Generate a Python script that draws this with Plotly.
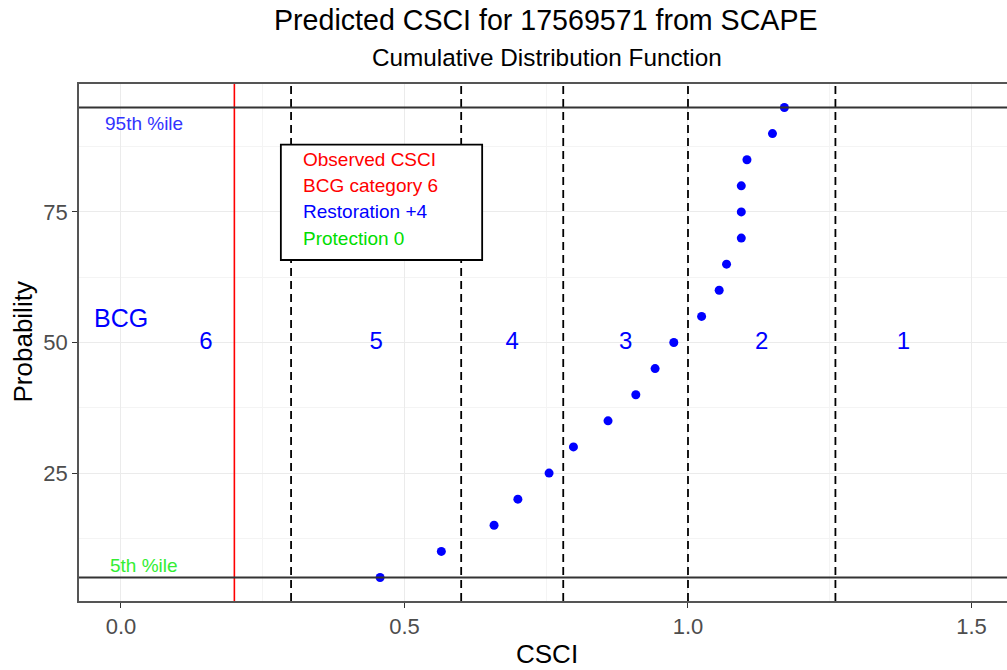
import plotly.graph_objects as go

# ---- data ----
probability = [5, 10, 15, 20, 25, 30, 35, 40, 45, 50, 55, 60, 65, 70, 75, 80, 85, 90, 95]
csci_pred = [0.457, 0.565, 0.658, 0.700, 0.755, 0.798, 0.859, 0.908, 0.942, 0.975,
             1.024, 1.055, 1.068, 1.094, 1.094, 1.094, 1.104, 1.149, 1.170]
bcg_breaks = [0.30, 0.60, 0.78, 1.00, 1.26]
bcg_labels = ["6", "5", "4", "3", "2", "1"]
bcg_label_x = [0.15, 0.45, 0.69, 0.89, 1.13, 1.38]
observed_csci = 0.20
pct_lines = [95, 5]
pct_labels = ["95th %ile", "5th %ile"]
pct_colors = ["#3333FF", "#33EE33"]
legend_lines = ["Observed CSCI", "BCG category 6", "Restoration +4", "Protection 0"]
legend_colors = ["#FF0000", "#FF0000", "#0000FF", "#00DD00"]
x_ticks = [0.0, 0.5, 1.0, 1.5]
x_tick_text = ["0.0", "0.5", "1.0", "1.5"]
y_ticks = [25, 50, 75]

FONT = "Liberation Sans, Arial, sans-serif"
W, H = 1007, 670
L, R, T, B = 79, 0, 84, 69

def px_x(px):
    return (px - L) / (W - L - R)

def px_y(py):
    return (H - B - py) / (H - B - T)

fig = go.Figure()

fig.add_trace(go.Scatter(
    x=csci_pred, y=probability, mode="markers",
    marker=dict(color="#0000FF", size=9, line=dict(width=0)),
    showlegend=False, hoverinfo="x+y"))

# BCG category numbers
fig.add_trace(go.Scatter(
    x=bcg_label_x, y=[50] * len(bcg_labels), mode="text", text=bcg_labels,
    textfont=dict(family=FONT, size=24, color="#0000FF"),
    textposition="middle center", showlegend=False, hoverinfo="skip"))

# threshold dashed lines
for b in bcg_breaks:
    fig.add_vline(x=b, line=dict(color="black", width=1.8, dash="8px,5px"), layer="above")
# observed CSCI
fig.add_vline(x=observed_csci, line=dict(color="#FF0000", width=1.6), layer="above")
# percentile lines
for p in pct_lines:
    fig.add_hline(y=p, line=dict(color="#333333", width=2), layer="above")

# legend box
fig.add_shape(type="rect", xref="x", yref="y", x0=0.282, x1=0.637, y0=65.8, y1=87.9,
              line=dict(color="black", width=1.8), fillcolor="white", layer="above")
for i, (t, c) in enumerate(zip(legend_lines, legend_colors)):
    fig.add_annotation(x=0.317, y=85 - 5 * i, xref="x", yref="y", text=t,
                       showarrow=False, xanchor="left", yanchor="middle",
                       font=dict(family=FONT, size=19, color=c))

# percentile labels
for p, t, c in zip([92, 7.3], pct_labels, pct_colors):
    fig.add_annotation(x=0.04, y=p, xref="x", yref="y", text=t, showarrow=False,
                       xanchor="center", yanchor="middle",
                       font=dict(family=FONT, size=19, color=c))

# BCG label
fig.add_annotation(x=0.0, y=54.6, xref="x", yref="y", text="BCG", showarrow=False,
                   xanchor="center", yanchor="middle",
                   font=dict(family=FONT, size=25, color="#0000FF"))

# titles
fig.add_annotation(x=px_x(546), y=px_y(20), xref="paper", yref="paper",
                   text="Predicted CSCI for 17569571 from SCAPE", showarrow=False,
                   xanchor="center", yanchor="middle",
                   font=dict(family=FONT, size=28.6, color="black"))
fig.add_annotation(x=px_x(547), y=px_y(58), xref="paper", yref="paper",
                   text="Cumulative Distribution Function", showarrow=False,
                   xanchor="center", yanchor="middle",
                   font=dict(family=FONT, size=24.3, color="black"))
fig.add_annotation(x=px_x(547), y=px_y(654), xref="paper", yref="paper",
                   text="CSCI", showarrow=False, xanchor="center", yanchor="middle",
                   font=dict(family=FONT, size=26, color="black"))
fig.add_annotation(x=px_x(22), y=50, xref="paper", yref="y",
                   text="Probability", showarrow=False, textangle=-90,
                   xanchor="center", yanchor="middle",
                   font=dict(family=FONT, size=26, color="black"))

fig.update_layout(
    width=W, height=H, margin=dict(l=L, r=R, t=T, b=B, pad=0),
    paper_bgcolor="white", plot_bgcolor="white",
    font=dict(family=FONT),
    xaxis=dict(range=[-0.074, 1.5626], tickvals=x_ticks, ticktext=x_tick_text,
               showgrid=True, gridcolor="#EBEBEB", gridwidth=1.2,
               minor=dict(tickvals=[0.25, 0.75, 1.25], showgrid=True,
                          gridcolor="#F4F4F4", gridwidth=0.8, ticks=""),
               showline=True, linecolor="#555555", linewidth=1.5, mirror=True,
               ticks="outside", ticklen=5, tickcolor="#333333", tickwidth=1.2,
               tickfont=dict(family=FONT, size=22, color="#4D4D4D"),
               zeroline=False),
    yaxis=dict(range=[0.5, 99.5], tickvals=y_ticks,
               showgrid=True, gridcolor="#EBEBEB", gridwidth=1.2,
               minor=dict(tickvals=[12.5, 37.5, 62.5, 87.5], showgrid=True,
                          gridcolor="#F4F4F4", gridwidth=0.8, ticks=""),
               showline=True, linecolor="#555555", linewidth=1.5, mirror=False,
               ticks="outside", ticklen=5, tickcolor="#333333", tickwidth=1.2,
               tickfont=dict(family=FONT, size=22, color="#4D4D4D"),
               zeroline=False),
)

fig.write_html("out.html", config={"displayModeBar": False},
               post_script="document.body.style.margin='0';document.body.style.overflow='hidden';")
